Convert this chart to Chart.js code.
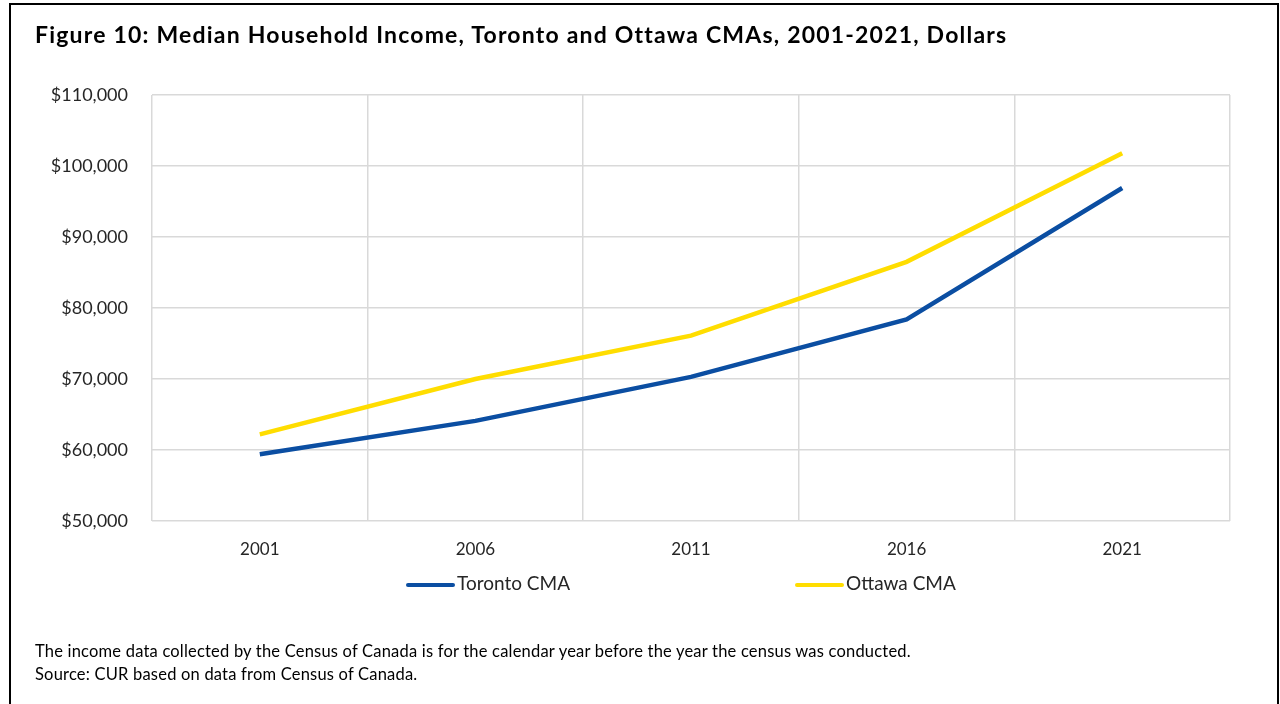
<!DOCTYPE html>
<html>
<head>
<meta charset="utf-8">
<script src="https://cdn.jsdelivr.net/npm/chart.js@4"></script>
<style>
  body { margin: 0; background: #fff; font-family: Lato, "Open Sans", sans-serif; }
  #frame { position: absolute; left: 9px; top: 3px; width: 1266px; height: 720px; border: 2px solid #000; border-bottom: none; }
  #title { position: absolute; left: 35px; top: 20px; font-size: 23px; letter-spacing: 1.2px; font-weight: bold; color: #000; white-space: nowrap; }
  #wrap { position: absolute; left: 0; top: 0; width: 1280px; height: 704px; }
  #legend { position: absolute; top: 571px; left: 0; width: 1280px; height: 24px; font-size: 19px; color: #262626; }
  .item { position: absolute; top: 0; white-space: nowrap; }
  .swatch { display: inline-block; width: 49px; height: 4px; border-radius: 2px; vertical-align: middle; margin-right: 2px; }
  #notes { position: absolute; left: 35px; top: 640px; font-size: 16.5px; letter-spacing: 0.2px; line-height: 23px; color: #000; white-space: nowrap; }
</style>
</head>
<body>
<div id="frame"></div>
<div id="wrap"><canvas id="myChart"></canvas></div>
<div id="title">Figure 10: Median Household Income, Toronto and Ottawa CMAs, 2001-2021, Dollars</div>
<div id="legend">
  <span class="item" style="left:406px"><span class="swatch" style="background:#0b4ea2"></span>Toronto CMA</span>
  <span class="item" style="left:795px"><span class="swatch" style="background:#ffdd00"></span>Ottawa CMA</span>
</div>
<div id="notes">The income data collected by the Census of Canada is for the calendar year before the year the census was conducted.<br>Source: CUR based on data from Census of Canada.</div>
<script>
var years = ['2001', '2006', '2011', '2016', '2021'];
var toronto = [59400, 64100, 70300, 78400, 96900];
var ottawa = [62200, 70000, 76100, 86500, 101800];

var ctx = document.getElementById('myChart').getContext('2d');
var myChart = new Chart(ctx, {
    type: 'line',
    data: {
        labels: years,
        datasets: [{
            label: 'Toronto CMA',
            data: toronto,
            borderColor: '#0b4ea2',
            backgroundColor: '#0b4ea2',
            borderWidth: 4.5,
            pointRadius: 0,
            tension: 0
        }, {
            label: 'Ottawa CMA',
            data: ottawa,
            borderColor: '#ffdd00',
            backgroundColor: '#ffdd00',
            borderWidth: 4.5,
            pointRadius: 0,
            tension: 0
        }]
    },
    options: {
        responsive: true,
        maintainAspectRatio: false,
        animation: false,
        layout: { padding: { left: 20, right: 50, top: 95, bottom: 143 } },
        plugins: { legend: { display: false }, tooltip: { enabled: false } },
        scales: {
            x: {
                offset: true,
                grid: { offset: true, color: '#d9d9d9', lineWidth: 1.5, drawTicks: false },
                border: { display: false },
                ticks: { padding: 18, color: '#262626', font: { family: 'Lato', size: 17 } },
                afterFit: function (s) { s.height = 40; }
            },
            y: {
                min: 50000,
                max: 110000,
                grid: { color: '#d9d9d9', lineWidth: 1.5, drawTicks: false },
                border: { display: false },
                ticks: {
                    stepSize: 10000,
                    padding: 24,
                    color: '#262626',
                    font: { family: 'Lato', size: 18 },
                    callback: function (v) { return '$' + v.toLocaleString('en-US'); }
                },
                afterFit: function (s) { s.width = 132; }
            }
        }
    }
});
</script>
</body>
</html>
